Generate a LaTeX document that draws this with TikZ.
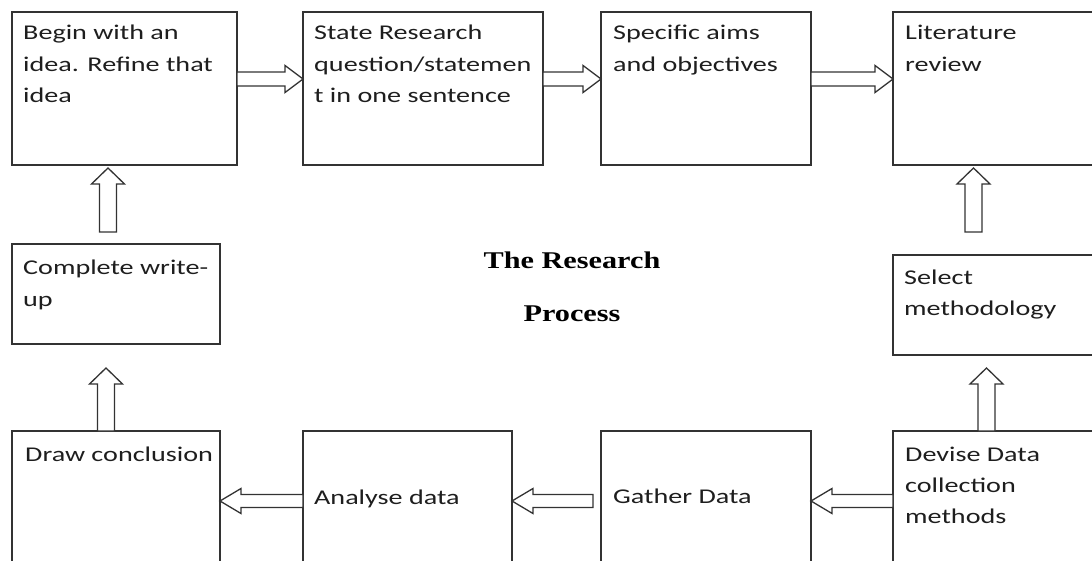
\documentclass[tikz,border=0pt]{standalone}
\usepackage{fontspec}
\usetikzlibrary{calc}
\newfontfamily\boxfont{Carlito}[FakeStretch=1.34]
\newfontfamily\headfont{Liberation Serif}[FakeStretch=1.26]
\definecolor{edge}{HTML}{333333}
\definecolor{ink}{HTML}{1E1E1E}

\tikzset{
  stepbox/.style={draw=edge, line width=1.6pt, fill=white, rectangle,
    inner sep=0pt, outer sep=0pt, anchor=north west},
  boxtext/.style={anchor=base west, inner sep=0pt, text=ink,
    font=\boxfont\fontsize{21}{31.2}\selectfont},
  % hollow block arrow: #1 half shaft width, #2 half head width, #3 head length
  blockarrow/.style n args={3}{to path={
     ($(\tikztostart)!#1!90:(\tikztotarget)$)
     -- ($(\tikztotarget)!#3!(\tikztostart)!#1!-90:(\tikztostart)$)
     -- ($(\tikztotarget)!#3!(\tikztostart)!#2!-90:(\tikztostart)$)
     -- (\tikztotarget)
     -- ($(\tikztotarget)!#3!(\tikztostart)!#2!90:(\tikztostart)$)
     -- ($(\tikztotarget)!#3!(\tikztostart)!#1!90:(\tikztostart)$)
     -- ($(\tikztostart)!#1!-90:(\tikztotarget)$) -- cycle}},
  flow/.style={draw=edge, fill=white, line width=1.3pt, line join=miter},
  toparrow/.style={flow, blockarrow={7pt}{13.5pt}{18pt}},
  lowarrow/.style={flow, blockarrow={6.5pt}{12.5pt}{21pt}},
  uparrow/.style={flow, blockarrow={8.5pt}{16.5pt}{16pt}},
}

\begin{document}
\begin{tikzpicture}[x=1pt, y=-1pt]
\useasboundingbox (0,0) rectangle (1092,561);
\fill[white] (0,0) rectangle (1092,561);
\clip (0,0) rectangle (1092,561);

% top row
\node[stepbox, minimum width=225pt, minimum height=153pt] (b1) at (12,12) {};
\node[stepbox, minimum width=240pt, minimum height=153pt] (b2) at (303,12) {};
\node[stepbox, minimum width=210pt, minimum height=153pt] (b3) at (601,12) {};
\node[stepbox, minimum width=215pt, minimum height=153pt] (b4) at (893,12) {};
% middle row
\node[stepbox, minimum width=208pt, minimum height=100pt] (b5) at (12,244) {};
\node[stepbox, minimum width=215pt, minimum height=100pt] (b6) at (893,255) {};
% bottom row
\node[stepbox, minimum width=208pt, minimum height=140pt] (b7) at (12,431) {};
\node[stepbox, minimum width=209pt, minimum height=140pt] (b8) at (303,431) {};
\node[stepbox, minimum width=210pt, minimum height=140pt] (b9) at (601,431) {};
\node[stepbox, minimum width=215pt, minimum height=140pt] (b10) at (893,431) {};

% box texts
\node[boxtext] (t1) at ([shift={(11pt,-28pt)}]b1.north west)
  {\begin{tabular}[t]{@{}l@{}}Begin with an\\idea. Refine that\\idea\end{tabular}};
\node[boxtext] (t2) at ([shift={(11pt,-28pt)}]b2.north west)
  {\begin{tabular}[t]{@{}l@{}}State Research\\question/statemen\\t in one sentence\end{tabular}};
\node[boxtext] (t3) at ([shift={(12pt,-28pt)}]b3.north west)
  {\begin{tabular}[t]{@{}l@{}}Specific aims\\and objectives\end{tabular}};
\node[boxtext] (t4) at ([shift={(12pt,-28pt)}]b4.north west)
  {\begin{tabular}[t]{@{}l@{}}Literature\\review\end{tabular}};
\node[boxtext] (t5) at ([shift={(11pt,-31pt)}]b5.north west)
  {\begin{tabular}[t]{@{}l@{}}Complete write-\\up\end{tabular}};
\node[boxtext] (t6) at ([shift={(11pt,-29pt)}]b6.north west)
  {\begin{tabular}[t]{@{}l@{}}Select\\methodology\end{tabular}};
\node[boxtext] (t7) at ([shift={(13pt,-30pt)}]b7.north west) {Draw conclusion};
\node[boxtext] (t8) at ([shift={(11pt,-73pt)}]b8.north west) {Analyse data};
\node[boxtext] (t9) at ([shift={(12pt,-72pt)}]b9.north west) {Gather Data};
\node[boxtext] (t10) at ([shift={(12pt,-30pt)}]b10.north west)
  {\begin{tabular}[t]{@{}l@{}}Devise Data\\collection\\methods\end{tabular}};

% title in the middle
\node[anchor=base, inner sep=0pt, text=black,
  font=\headfont\bfseries\fontsize{24}{53}\selectfont] (title) at (572,269)
  {\begin{tabular}[t]{@{}c@{}}The Research\\Process\end{tabular}};

% connectors
\draw[toparrow] ([yshift=-67pt]b1.north east) to ([yshift=-67pt]b2.north west);
\draw[toparrow] ([yshift=-67pt]b2.north east) to ([yshift=-67pt]b3.north west);
\draw[toparrow] ([yshift=-67pt]b3.north east) to ([yshift=-67pt]b4.north west);
\draw[uparrow] ([shift={(80.5pt,23pt)}]b6.north west) to ([shift={(80.5pt,-3pt)}]b4.south west);
\draw[uparrow] ([xshift=93.5pt]b10.north west) to ([shift={(93.5pt,-13pt)}]b6.south west);
\draw[lowarrow] ([yshift=-70pt]b10.north west) to ([yshift=-70pt]b9.north east);
\draw[lowarrow] ([shift={(-8pt,-70pt)}]b9.north west) to ([yshift=-70pt]b8.north east);
\draw[lowarrow] ([yshift=-70pt]b8.north west) to ([yshift=-70pt]b7.north east);
\draw[uparrow] ([xshift=94pt]b7.north west) to ([shift={(94pt,-24pt)}]b5.south west);
\draw[uparrow] ([shift={(96pt,12pt)}]b5.north west) to ([shift={(96pt,-3pt)}]b1.south west);
\end{tikzpicture}
\end{document}
